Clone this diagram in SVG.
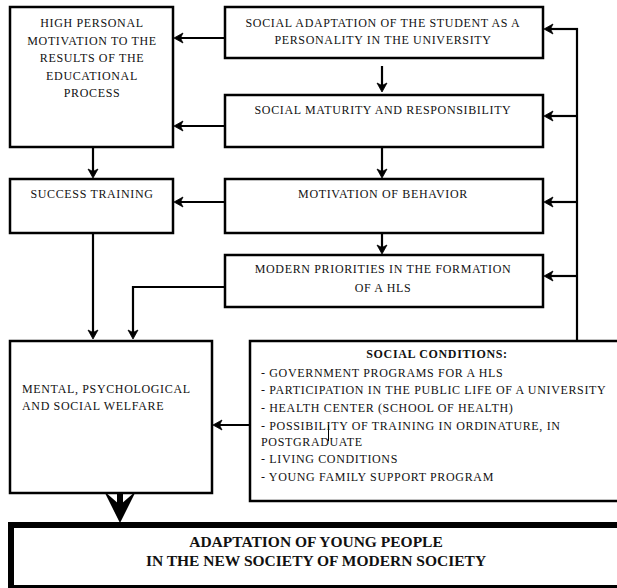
<svg xmlns="http://www.w3.org/2000/svg" xmlns:xlink="http://www.w3.org/1999/xlink" width="617" height="588" viewBox="0 0 617 588">
  <defs>
    <!-- arrowhead pointing right, tip at the origin -->
    <path id="ah" d="M0,0 L-9,-5 L-6.5,0 L-9,5 Z" fill="#000" stroke="#000" stroke-width="0.8"/>
  </defs>
  <style>
    .box { fill: #fff; stroke: #000; stroke-width: 2.5; }
    .main { fill: #fff; stroke: #000; stroke-width: 6; }
    .t { font-family: "Liberation Serif", "Times New Roman", serif; font-size: 12px; letter-spacing: 0.65px; fill: #111; }
    .c { text-anchor: middle; }
    .b { font-weight: bold; }
    .big { font-family: "Liberation Serif", "Times New Roman", serif; font-size: 15.5px; font-weight: bold; fill: #111; text-anchor: middle; }
    .ln { fill: none; stroke: #000; stroke-width: 2.2; }
  </style>
  <rect width="617" height="588" fill="#fff"/>

  <!-- connectors -->
  <g id="connectors">
    <!-- right-hand boxes to the left column -->
    <line class="ln" x1="225" y1="38" x2="178" y2="38"/>
    <use xlink:href="#ah" href="#ah" transform="translate(174,38) rotate(180)"/>
    <line class="ln" x1="225" y1="126" x2="178" y2="126"/>
    <use xlink:href="#ah" href="#ah" transform="translate(174,126) rotate(180)"/>
    <line class="ln" x1="225" y1="202" x2="178" y2="202"/>
    <use xlink:href="#ah" href="#ah" transform="translate(174,202) rotate(180)"/>
    <polyline class="ln" points="225,287 133,287 133,335"/>
    <use xlink:href="#ah" href="#ah" transform="translate(133,339) rotate(90)"/>
    <!-- left column downward -->
    <line class="ln" x1="93" y1="147" x2="93" y2="174"/>
    <use xlink:href="#ah" href="#ah" transform="translate(93,178) rotate(90)"/>
    <line class="ln" x1="93" y1="233" x2="93" y2="335"/>
    <use xlink:href="#ah" href="#ah" transform="translate(93,339) rotate(90)"/>
    <!-- central chain -->
    <line class="ln" x1="382" y1="66" x2="382" y2="88"/>
    <use xlink:href="#ah" href="#ah" transform="translate(382,92) rotate(90)"/>
    <line class="ln" x1="382" y1="147" x2="382" y2="174"/>
    <use xlink:href="#ah" href="#ah" transform="translate(382,178) rotate(90)"/>
    <line class="ln" x1="382" y1="233" x2="382" y2="250"/>
    <use xlink:href="#ah" href="#ah" transform="translate(382,254) rotate(90)"/>
    <!-- feedback spine from social conditions -->
    <line class="ln" x1="577" y1="28" x2="577" y2="341"/>
    <line class="ln" x1="578" y1="29" x2="548" y2="29"/>
    <use xlink:href="#ah" href="#ah" transform="translate(544,29) rotate(180)"/>
    <line class="ln" x1="577" y1="116" x2="548" y2="116"/>
    <use xlink:href="#ah" href="#ah" transform="translate(544,116) rotate(180)"/>
    <line class="ln" x1="577" y1="202" x2="548" y2="202"/>
    <use xlink:href="#ah" href="#ah" transform="translate(544,202) rotate(180)"/>
    <line class="ln" x1="577" y1="276" x2="548" y2="276"/>
    <use xlink:href="#ah" href="#ah" transform="translate(544,276) rotate(180)"/>
    <!-- social conditions to welfare -->
    <line class="ln" x1="250" y1="425" x2="217" y2="425"/>
    <use xlink:href="#ah" href="#ah" transform="translate(213,425) rotate(180)"/>
    <!-- heavy arrow to the final box -->
    <rect x="117" y="493" width="6" height="14" fill="#000"/>
    <path d="M104,491 L120,523 L136,491 L120,505 Z" fill="#000"/>
  </g>

  <g id="high-motivation">
    <rect class="box" x="10" y="7" width="163" height="140"/>
    <text class="t c" x="92" y="27">HIGH PERSONAL</text>
    <text class="t c" x="92" y="44.5">MOTIVATION  TO THE</text>
    <text class="t c" x="92" y="62">RESULTS OF THE</text>
    <text class="t c" x="92" y="79.5">EDUCATIONAL</text>
    <text class="t c" x="92" y="97">PROCESS</text>
  </g>

  <g id="social-adaptation">
    <rect class="box" x="225" y="7" width="318" height="51"/>
    <text class="t c" x="383" y="27">SOCIAL ADAPTATION  OF THE STUDENT AS A</text>
    <text class="t c" x="383" y="44">PERSONALITY IN THE UNIVERSITY</text>
  </g>

  <g id="social-maturity">
    <rect class="box" x="225" y="95" width="318" height="52"/>
    <text class="t c" x="383" y="114">SOCIAL MATURITY  AND RESPONSIBILITY</text>
  </g>

  <g id="success-training">
    <rect class="box" x="10" y="179" width="163" height="54"/>
    <text class="t c" x="92" y="198">SUCCESS TRAINING</text>
  </g>

  <g id="motivation-behavior">
    <rect class="box" x="225" y="179" width="318" height="54"/>
    <text class="t c" x="383" y="198">MOTIVATION  OF BEHAVIOR</text>
  </g>

  <g id="modern-priorities">
    <rect class="box" x="225" y="255" width="318" height="52"/>
    <text class="t c" x="383" y="273">MODERN PRIORITIES IN THE FORMATION</text>
    <text class="t c" x="383" y="292">OF A HLS</text>
  </g>

  <g id="welfare">
    <rect class="box" x="10" y="341" width="202" height="152"/>
    <text class="t" x="22" y="393">MENTAL, PSYCHOLOGICAL</text>
    <text class="t" x="22" y="410">AND SOCIAL WELFARE</text>
  </g>

  <g id="social-conditions">
    <rect class="box" x="250" y="341" width="400" height="160"/>
    <text class="t c b" x="437" y="358">SOCIAL CONDITIONS:</text>
    <text class="t" x="261" y="377">- GOVERNMENT  PROGRAMS FOR A HLS</text>
    <text class="t" x="261" y="394">- PARTICIPATION IN THE PUBLIC LIFE OF A UNIVERSITY</text>
    <text class="t" x="261" y="412">- HEALTH CENTER (SCHOOL OF HEALTH)</text>
    <text class="t" x="261" y="430">- POSSIBILITY OF TRAINING IN ORDINATURE, IN</text>
    <text class="t" x="261" y="446">POSTGRADUATE</text>
    <text class="t" x="261" y="463">- LIVING  CONDITIONS</text>
    <text class="t" x="261" y="481">- YOUNG FAMILY SUPPORT PROGRAM</text>
    <line x1="328.5" y1="425" x2="328.5" y2="441" stroke="#000" stroke-width="1"/>
  </g>

  <g id="adaptation-young-people">
    <rect class="main" x="11" y="525" width="640" height="63"/>
    <text class="big" x="316" y="547">ADAPTATION OF YOUNG PEOPLE</text>
    <text class="big" x="316" y="566">IN THE NEW SOCIETY OF MODERN SOCIETY</text>
  </g>
</svg>
